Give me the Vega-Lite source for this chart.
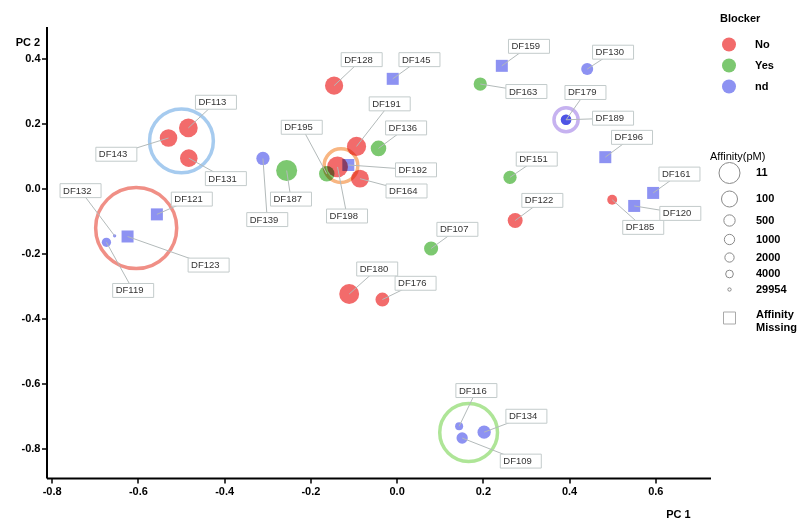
{
  "$schema": "https://vega.github.io/schema/vega-lite/v6.json",
  "width": 664,
  "height": 451.5,
  "autosize": {"type": "none"},
  "padding": {"left": 46.5, "top": 26.5, "right": 89.5, "bottom": 50},
  "background": "white",
  "config": {
    "view": {"stroke": null},
    "font": "Liberation Sans",
    "legend": {"labelFont": "Liberation Sans", "titleFont": "Liberation Sans"},
    "axis": {
      "format": ".1f", "labelExpr": "replace(datum.label, '\u2212', '-')",
      "domainColor": "black", "domainWidth": 2, "tickColor": "black", "tickWidth": 1.5, "tickSize": 5,
      "labelColor": "black", "labelFontWeight": "bold", "labelFontSize": 11,
      "labelFlush": false, "labelOverlap": false, "grid": false,
      "titleAngle": 0, "titleAlign": "center", "titleBaseline": "middle",
      "titleFontSize": 11, "titleFontWeight": "bold", "titleColor": "black"
    },
    "axisX": {"labelPadding": 2, "titleX": 631.5, "titleY": 36},
    "axisY": {"labelPadding": 1.5, "titleX": -19, "titleY": 15.5}
  },
  "datasets": {
    "pts": [
      {"id": "DF113", "pc1": -0.483, "pc2": 0.185, "blocker": "No", "affinity": 55, "lx": -0.419, "ly": 0.264},
      {"id": "DF143", "pc1": -0.529, "pc2": 0.154, "blocker": "No", "affinity": 75, "lx": -0.650, "ly": 0.104},
      {"id": "DF131", "pc1": -0.482, "pc2": 0.092, "blocker": "No", "affinity": 75, "lx": -0.396, "ly": 0.029},
      {"id": "DF139", "pc1": -0.310, "pc2": 0.091, "blocker": "nd", "affinity": 350, "lx": -0.300, "ly": -0.097},
      {"id": "DF121", "pc1": -0.556, "pc2": -0.081, "blocker": "nd", "affinity": null, "lx": -0.475, "ly": -0.034},
      {"id": "DF123", "pc1": -0.624, "pc2": -0.149, "blocker": "nd", "affinity": null, "lx": -0.436, "ly": -0.237},
      {"id": "DF132", "pc1": -0.654, "pc2": -0.147, "blocker": "nd", "affinity": 29954, "lx": -0.733, "ly": -0.008},
      {"id": "DF119", "pc1": -0.673, "pc2": -0.167, "blocker": "nd", "affinity": 2000, "lx": -0.611, "ly": -0.315},
      {"id": "DF128", "pc1": -0.145, "pc2": 0.315, "blocker": "No", "affinity": 64, "lx": -0.081, "ly": 0.395},
      {"id": "DF145", "pc1": -0.009, "pc2": 0.336, "blocker": "nd", "affinity": null, "lx": 0.053, "ly": 0.395},
      {"id": "DF191", "pc1": -0.093, "pc2": 0.128, "blocker": "No", "affinity": 46, "lx": -0.016, "ly": 0.259},
      {"id": "DF136", "pc1": -0.042, "pc2": 0.122, "blocker": "Yes", "affinity": 144, "lx": 0.022, "ly": 0.185},
      {"id": "DF187", "pc1": -0.255, "pc2": 0.054, "blocker": "Yes", "affinity": 11, "lx": -0.245, "ly": -0.034},
      {"id": "DF195", "pc1": -0.162, "pc2": 0.044, "blocker": "Yes", "affinity": 150, "lx": -0.220, "ly": 0.187},
      {"id": "DF198", "pc1": -0.137, "pc2": 0.065, "blocker": "No", "affinity": 15, "lx": -0.115, "ly": -0.086},
      {"id": "DF192", "pc1": -0.112, "pc2": 0.071, "blocker": "nd", "affinity": null, "lx": 0.045, "ly": 0.056},
      {"id": "DF164", "pc1": -0.085, "pc2": 0.029, "blocker": "No", "affinity": 70, "lx": 0.023, "ly": -0.009},
      {"id": "DF159", "pc1": 0.244, "pc2": 0.376, "blocker": "nd", "affinity": null, "lx": 0.307, "ly": 0.436},
      {"id": "DF163", "pc1": 0.194, "pc2": 0.320, "blocker": "Yes", "affinity": 350, "lx": 0.301, "ly": 0.297},
      {"id": "DF130", "pc1": 0.442, "pc2": 0.366, "blocker": "nd", "affinity": 450, "lx": 0.502, "ly": 0.418},
      {"id": "DF179", "pc1": 0.393, "pc2": 0.210, "blocker": "nd", "affinity": 850, "lx": 0.438, "ly": 0.294},
      {"id": "DF189", "pc1": 0.393, "pc2": 0.210, "blocker": "nd", "affinity": 850, "lx": 0.502, "ly": 0.215},
      {"id": "DF196", "pc1": 0.484, "pc2": 0.095, "blocker": "nd", "affinity": null, "lx": 0.546, "ly": 0.156},
      {"id": "DF151", "pc1": 0.263, "pc2": 0.033, "blocker": "Yes", "affinity": 350, "lx": 0.325, "ly": 0.089},
      {"id": "DF122", "pc1": 0.275, "pc2": -0.100, "blocker": "No", "affinity": 200, "lx": 0.338, "ly": -0.038},
      {"id": "DF185", "pc1": 0.500, "pc2": -0.036, "blocker": "No", "affinity": 1400, "lx": 0.572, "ly": -0.121},
      {"id": "DF161", "pc1": 0.595, "pc2": -0.015, "blocker": "nd", "affinity": null, "lx": 0.656, "ly": 0.043},
      {"id": "DF120", "pc1": 0.551, "pc2": -0.055, "blocker": "nd", "affinity": null, "lx": 0.658, "ly": -0.078},
      {"id": "DF107", "pc1": 0.080, "pc2": -0.186, "blocker": "Yes", "affinity": 280, "lx": 0.141, "ly": -0.127},
      {"id": "DF180", "pc1": -0.110, "pc2": -0.326, "blocker": "No", "affinity": 33, "lx": -0.045, "ly": -0.249},
      {"id": "DF176", "pc1": -0.033, "pc2": -0.343, "blocker": "No", "affinity": 300, "lx": 0.044, "ly": -0.293},
      {"id": "DF116", "pc1": 0.145, "pc2": -0.733, "blocker": "nd", "affinity": 3600, "lx": 0.185, "ly": -0.623},
      {"id": "DF109", "pc1": 0.152, "pc2": -0.769, "blocker": "nd", "affinity": 500, "lx": 0.288, "ly": -0.840},
      {"id": "DF134", "pc1": 0.203, "pc2": -0.751, "blocker": "nd", "affinity": 350, "lx": 0.301, "ly": -0.702}
    ],
    "rings": [
      {"ring": "blue", "cx": -0.499, "cy": 0.145, "r": 0.074},
      {"ring": "red", "cx": -0.604, "cy": -0.123, "r": 0.094},
      {"ring": "orange", "cx": -0.129, "cy": 0.069, "r": 0.039},
      {"ring": "purple", "cx": 0.393, "cy": 0.210, "r": 0.028},
      {"ring": "green", "cx": 0.167, "cy": -0.752, "r": 0.067}
    ]
  },
  "layer": [
    {
      "data": {"name": "rings"},
      "mark": {"type": "point", "filled": false, "strokeWidth": 3.5, "opacity": 1, "shape": "circle"},
      "encoding": {
        "x": {"field": "cx", "type": "quantitative", "title": "PC 1",
          "scale": {"domain": [-0.812, 0.728], "nice": false, "zero": false},
          "axis": {"values": [-0.8, -0.6, -0.4, -0.2, 0, 0.2, 0.4, 0.6]}},
        "y": {"field": "cy", "type": "quantitative", "title": "PC 2",
          "scale": {"domain": [-0.892, 0.497], "nice": false, "zero": false},
          "axis": {"values": [-0.8, -0.6, -0.4, -0.2, 0, 0.2, 0.4]}},
        "size": {
          "field": "r", "type": "quantitative",
          "scale": {"type": "pow", "exponent": 2, "domain": [0, 0.1], "range": [0, 7437]},
          "legend": null
        },
        "stroke": {
          "field": "ring", "type": "nominal",
          "scale": {"domain": ["blue", "red", "orange", "purple", "green"], "range": ["#a6cbef", "#f08f86", "#f8b682", "#c6b2f0", "#aee597"]},
          "legend": null
        }
      }
    },
    {
      "data": {"name": "pts"},
      "transform": [{"filter": "datum.affinity != null"}],
      "mark": {"type": "point", "filled": true, "opacity": 1, "shape": "circle", "blend": "multiply"},
      "encoding": {
        "x": {"field": "pc1", "type": "quantitative", "title": "PC 1", "axis": {"values": [-0.8, -0.6, -0.4, -0.2, 0, 0.2, 0.4, 0.6]}},
        "y": {"field": "pc2", "type": "quantitative", "title": "PC 2", "axis": {"values": [-0.8, -0.6, -0.4, -0.2, 0, 0.2, 0.4]}},
        "color": {
          "field": "blocker", "type": "nominal",
          "scale": {"domain": ["No", "Yes", "nd"], "range": ["#f26b6b", "#7cc870", "#8d92f2"]},
          "legend": {
            "title": "Blocker", "orient": "none", "legendX": 673.5, "legendY": -14,
            "symbolType": "circle", "symbolSize": 196, "symbolStrokeWidth": 0, "symbolOpacity": 1,
            "symbolOffset": 2, "labelOffset": 19, "rowPadding": 7, "titlePadding": 14,
            "titleFontWeight": "bold", "titleFontSize": 11, "titleColor": "black",
            "labelFontSize": 11, "labelFontWeight": "bold", "labelColor": "black"
          }
        },
        "size": {
          "field": "affinity", "type": "quantitative",
          "scale": {"type": "linear", "domain": [11, 100, 500, 1000, 2000, 4000, 29954], "range": [441, 256, 128, 106, 86, 59, 11], "zero": false, "nice": false},
          "legend": {
            "title": "Affinity(pM)", "values": [11, 100, 500, 1000, 2000, 4000, 29954], "format": "d",
            "orient": "none", "legendX": 663.5, "legendY": 124.5,
            "symbolOffset": 8.5, "labelOffset": 15.5, "rowPadding": 2.5, "titlePadding": 0,
            "symbolFillColor": "transparent", "symbolStrokeColor": "#8a8a8a", "symbolStrokeWidth": 1, "symbolOpacity": 1,
            "titleFontWeight": "normal", "titleFontSize": 11, "titleColor": "black",
            "labelFontSize": 11, "labelFontWeight": "bold", "labelColor": "black"
          }
        }
      }
    },
    {
      "data": {"name": "pts"},
      "transform": [{"filter": "datum.affinity == null"}],
      "mark": {"type": "point", "filled": true, "opacity": 1, "size": 144, "blend": "multiply"},
      "encoding": {
        "x": {"field": "pc1", "type": "quantitative", "title": "PC 1", "axis": {"values": [-0.8, -0.6, -0.4, -0.2, 0, 0.2, 0.4, 0.6]}},
        "y": {"field": "pc2", "type": "quantitative", "title": "PC 2", "axis": {"values": [-0.8, -0.6, -0.4, -0.2, 0, 0.2, 0.4]}},
        "color": {"field": "blocker", "type": "nominal"},
        "shape": {
          "datum": "Affinity Missing", "type": "nominal",
          "scale": {"range": ["square"]},
          "legend": {
            "title": null, "orient": "none", "legendX": 676.5, "legendY": 285,
            "symbolSize": 144, "labelOffset": 20, "labelExpr": "['Affinity', 'Missing']",
            "symbolFillColor": "transparent", "symbolStrokeColor": "#aaaaaa", "symbolStrokeWidth": 1, "symbolOpacity": 1,
            "labelFontSize": 11, "labelFontWeight": "bold", "labelColor": "black", "labelBaseline": "alphabetic"
          }
        }
      }
    },
    {
      "data": {"name": "pts"},
      "mark": {"type": "rule", "color": "#b3baba", "strokeWidth": 1},
      "encoding": {
        "x": {"field": "pc1", "type": "quantitative", "title": "PC 1", "axis": {"values": [-0.8, -0.6, -0.4, -0.2, 0, 0.2, 0.4, 0.6]}},
        "y": {"field": "pc2", "type": "quantitative", "title": "PC 2", "axis": {"values": [-0.8, -0.6, -0.4, -0.2, 0, 0.2, 0.4]}},
        "x2": {"field": "lx"},
        "y2": {"field": "ly"}
      }
    },
    {
      "data": {"name": "pts"},
      "mark": {"type": "point", "shape": "M-1,-0.34L1,-0.34L1,0.34L-1,0.34Z", "size": 1681, "filled": true, "fill": "white", "stroke": "#c3cbcb", "strokeWidth": 1, "opacity": 1},
      "encoding": {
        "x": {"field": "lx", "type": "quantitative", "title": "PC 1", "axis": {"values": [-0.8, -0.6, -0.4, -0.2, 0, 0.2, 0.4, 0.6]}},
        "y": {"field": "ly", "type": "quantitative", "title": "PC 2", "axis": {"values": [-0.8, -0.6, -0.4, -0.2, 0, 0.2, 0.4]}}
      }
    },
    {
      "data": {"name": "pts"},
      "mark": {"type": "text", "align": "left", "baseline": "middle", "dx": -17.5, "fontSize": 9.5, "font": "Liberation Sans", "color": "#333333"},
      "encoding": {
        "x": {"field": "lx", "type": "quantitative", "title": "PC 1", "axis": {"values": [-0.8, -0.6, -0.4, -0.2, 0, 0.2, 0.4, 0.6]}},
        "y": {"field": "ly", "type": "quantitative", "title": "PC 2", "axis": {"values": [-0.8, -0.6, -0.4, -0.2, 0, 0.2, 0.4]}},
        "text": {"field": "id"}
      }
    }
  ],
  "resolve": {"scale": {"size": "independent"}}
}
